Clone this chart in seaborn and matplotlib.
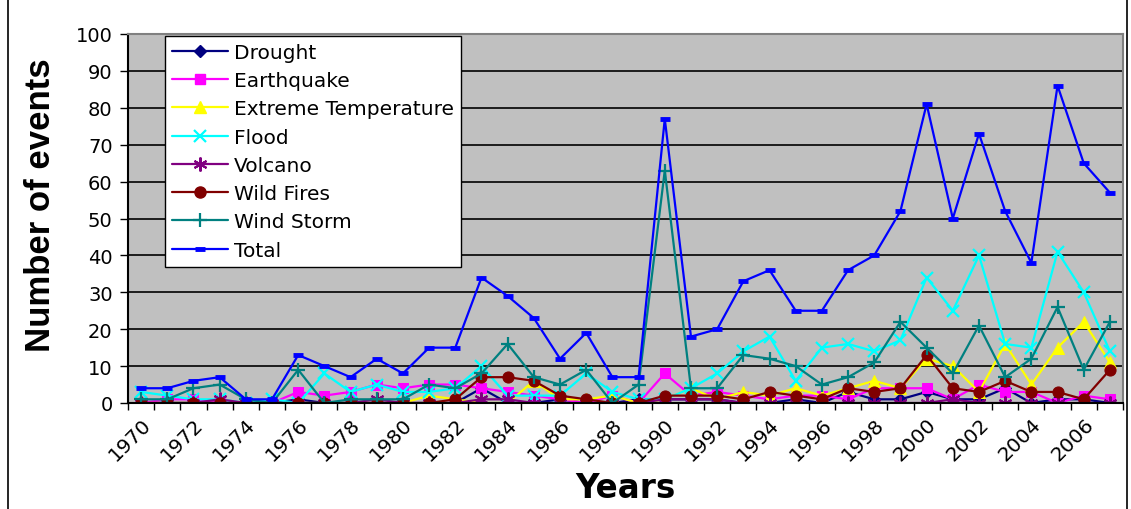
import numpy as np
import pandas as pd
import matplotlib
matplotlib.use("Agg")
import matplotlib.pyplot as plt
import seaborn as sns
from matplotlib.lines import Line2D
from matplotlib.ticker import FixedLocator, MultipleLocator

# Annual counts of recorded disaster events by type, 1970-2007
years = list(range(1970, 2008))
drought = [0, 0, 0, 0, 0, 0, 1, 0, 0, 0, 0, 0, 0, 4, 0, 0, 1, 0, 0, 1,
           1, 1, 1, 0, 0, 1, 0, 3, 1, 1, 3, 1, 1, 4, 0, 1, 1, 0]
earthquake = [0, 1, 1, 0, 0, 0, 3, 2, 3, 5, 4, 5, 5, 4, 3, 2, 1, 0, 2, 0,
              8, 2, 3, 2, 1, 2, 2, 1, 4, 4, 4, 1, 5, 3, 3, 0, 2, 1]
extreme_temperature = [0, 0, 0, 0, 0, 0, 0, 0, 0, 0, 0, 2, 1, 0, 0, 6, 1, 1, 2, 0,
                       1, 4, 1, 3, 2, 4, 2, 4, 6, 4, 12, 10, 3, 16, 5, 15, 22, 11]
flood = [3, 2, 1, 1, 0, 1, 0, 8, 3, 5, 3, 3, 4, 10, 2, 2, 2, 8, 3, 1,
         1, 4, 8, 14, 18, 6, 15, 16, 14, 17, 34, 25, 40, 16, 15, 41, 30, 14]
volcano = [0, 0, 0, 1, 0, 0, 0, 0, 0, 1, 0, 0, 0, 1, 1, 0, 0, 0, 0, 0,
           1, 1, 1, 0, 0, 0, 0, 0, 0, 0, 0, 1, 0, 0, 0, 0, 0, 0]
wild_fires = [0, 0, 0, 0, 0, 0, 0, 0, 0, 0, 0, 0, 1, 7, 7, 6, 2, 1, 0, 0,
              2, 2, 2, 1, 3, 2, 1, 4, 3, 4, 13, 4, 3, 6, 3, 3, 1, 9]
wind_storm = [1, 1, 4, 5, 1, 0, 9, 0, 1, 1, 1, 5, 4, 8, 16, 7, 5, 9, 0, 5,
              63, 4, 4, 13, 12, 10, 5, 7, 11, 22, 15, 8, 21, 7, 12, 26, 9, 22]
total = [4, 4, 6, 7, 1, 1, 13, 10, 7, 12, 8, 15, 15, 34, 29, 23, 12, 19, 7, 7,
         77, 18, 20, 33, 36, 25, 25, 36, 40, 52, 81, 50, 73, 52, 38, 86, 65, 57]

series_names = ["Drought", "Earthquake", "Extreme Temperature", "Flood",
                "Volcano", "Wild Fires", "Wind Storm", "Total"]
series_values = [drought, earthquake, extreme_temperature, flood,
                 volcano, wild_fires, wind_storm, total]
tick_years = list(range(1970, 2007, 2))

# line style for each event type
styles = {
    "Drought": dict(color="#000080", marker="D", markersize=6.5, mfc="#000080", mec="#000080"),
    "Earthquake": dict(color="#FF00FF", marker="s", markersize=7.5, mfc="#FF00FF", mec="#FF00FF"),
    "Extreme Temperature": dict(color="#FFFF00", marker="^", markersize=8.5, mfc="#FFFF00", mec="#FFFF00"),
    "Flood": dict(color="#00FFFF", marker="x", markersize=9, mec="#00FFFF", mew=1.6),
    "Volcano": dict(color="#800080", marker=(6, 2, 0), markersize=10, mec="#800080", mew=1.5),
    "Wild Fires": dict(color="#800000", marker="o", markersize=8, mfc="#800000", mec="#800000"),
    "Wind Storm": dict(color="#008080", marker="+", markersize=10, mec="#008080", mew=1.6),
    "Total": dict(color="#0000FF", marker="_", markersize=7, mec="#0000FF", mew=3.5),
}

df = pd.DataFrame({"year": years})
for name, vals in zip(series_names, series_values):
    df[name] = vals

sns.set_theme(style="white")
plt.rcParams["font.family"] = ["DejaVu Sans"]
plt.rcParams["text.color"] = "black"
plt.rcParams["axes.labelcolor"] = "black"
plt.rcParams["xtick.color"] = "black"
plt.rcParams["ytick.color"] = "black"

fig = plt.figure(figsize=(11.31, 5.10), dpi=100)
ax = fig.add_axes([128 / 1131, 1 - 404 / 510, (1123 - 128) / 1131, (404 - 35) / 510])
ax.set_facecolor("#C0C0C0")

for name in series_names:
    sns.lineplot(data=df, x="year", y=name, ax=ax, linewidth=1.6,
                 label=name, legend=False, **styles[name])

ax.set_xlim(1969.5, 2007.5)
ax.set_ylim(0, 100)

# horizontal grid
ax.yaxis.set_major_locator(MultipleLocator(10))
for v in range(10, 101, 10):
    ax.axhline(v, color="black", linewidth=1.2, zorder=0.5)

# category ticks between years, labels every other year
ax.xaxis.set_major_locator(FixedLocator(tick_years))
ax.set_xticklabels([str(y) for y in tick_years], rotation=45, ha="right",
                   va="top", rotation_mode="anchor", fontsize=14.5)
ax.xaxis.set_minor_locator(FixedLocator([y + 0.5 for y in range(1969, 2008)]))
ax.tick_params(axis="x", which="major", length=0, pad=8)
ax.tick_params(axis="x", which="minor", length=5, width=1, color="black",
               direction="out", bottom=True)
ax.tick_params(axis="y", which="major", length=6, width=1, color="black",
               direction="out", left=True, labelsize=14, pad=5)

for side in ["left", "bottom"]:
    ax.spines[side].set_color("black")
    ax.spines[side].set_linewidth(1.5)
for side in ["top", "right"]:
    ax.spines[side].set_color("#808080")
    ax.spines[side].set_linewidth(1.5)

ax.set_xlabel("Years", fontsize=23.5, fontweight="bold", labelpad=5)
ax.set_ylabel("Number of events", fontsize=25, fontweight="bold",
              family=["Liberation Sans", "DejaVu Sans"])
ax.yaxis.set_label_coords(-0.071, 0.54)

handles = [Line2D([0], [0], linewidth=1.6, **styles[n]) for n in series_names]
leg = ax.legend(handles, series_names, loc="upper left",
                bbox_to_anchor=(0.037, 0.995), borderaxespad=0,
                fontsize=14.5, frameon=True, fancybox=False, framealpha=1,
                edgecolor="black", facecolor="white", handlelength=2.8,
                handletextpad=0.3, labelspacing=0.46, borderpad=0.35)
leg.get_frame().set_linewidth(1.0)

# outer frame lines of the chart area
fig.add_artist(Line2D([8 / 1131, 8 / 1131], [0, 1], color="black", linewidth=1.2))
fig.add_artist(Line2D([1127 / 1131, 1127 / 1131], [0, 1], color="black", linewidth=1.2))

fig.savefig("out.png", dpi=100, facecolor="white")
